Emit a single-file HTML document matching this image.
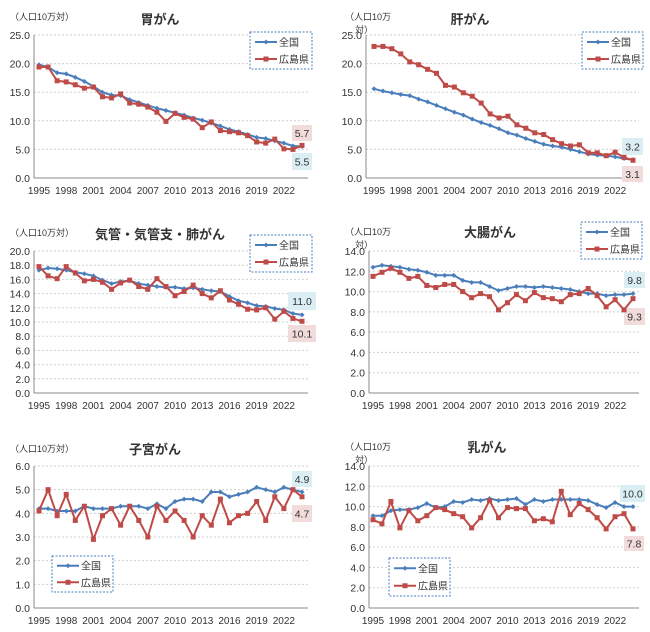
<!DOCTYPE html>
<html><head><meta charset="utf-8"><style>
body{margin:0;background:#fff}
svg{display:block}
text{font-family:"Liberation Sans","Noto Sans CJK JP",sans-serif;fill:#333}
</style></head><body>
<svg id="s" width="650" height="632" xmlns="http://www.w3.org/2000/svg"></svg>
<script>
const P=[
{t:"胃がん",tx:160,ty:24,ax:34,x0:39,x1:302,yt:35,yb:178,max:25,step:5,fix:1,ylab:1,lx:10,ly:20,
 leg:[250,32,62,37],
 n:[19.8,19.4,18.4,18.2,17.6,16.9,16.0,15.0,14.5,14.4,13.7,13.2,12.7,12.2,11.8,11.4,11.0,10.5,10.1,9.6,9.1,8.5,8.1,7.6,7.1,6.9,6.5,6.1,5.6,5.5],
 h:[19.4,19.4,17.0,16.8,16.3,15.7,15.9,14.2,14.0,14.7,13.1,12.9,12.4,11.5,9.9,11.3,10.6,10.3,8.8,9.8,8.3,8.1,7.9,7.4,6.3,6.1,6.8,5.1,5.0,5.7],
 bl:[292,153,20,17,"5.5"],pk:[292,125,20,16,"5.7"]},
{t:"肝がん",tx:470,ty:24,ax:366,x0:374,x1:633,yt:35,yb:178,max:25,step:5,fix:1,ylab:2,lx:345,ly:20,
 leg:[582,32,61,37],
 n:[15.6,15.2,14.9,14.6,14.4,13.8,13.3,12.7,12.1,11.5,11.0,10.3,9.7,9.2,8.6,7.9,7.5,6.9,6.4,5.9,5.6,5.4,5.0,4.6,4.2,4.0,3.9,3.7,3.4,3.2],
 h:[23.0,23.0,22.6,21.7,20.3,19.8,19.0,18.3,16.2,15.9,14.9,14.3,13.1,11.2,10.5,10.8,9.3,8.7,7.9,7.6,6.7,6.0,5.6,5.8,4.4,4.4,3.9,4.5,3.6,3.1],
 bl:[622,138,21,17,"3.2"],pk:[622,166,21,16,"3.1"]},
{t:"気管・気管支・肺がん",tx:160,ty:239,ax:34,x0:39,x1:302,yt:251,yb:393,max:20,step:2,fix:1,ylab:1,lx:10,ly:236,
 leg:[250,235,62,37],
 n:[17.3,17.6,17.5,17.3,17.0,16.8,16.5,15.9,15.4,15.7,15.8,15.4,15.2,15.0,14.9,14.9,14.7,14.8,14.6,14.4,14.3,13.6,13.0,12.7,12.3,12.2,11.9,11.7,11.2,11.0],
 h:[17.8,16.5,16.1,17.8,16.9,15.8,16.0,15.6,14.6,15.5,15.9,15.0,14.6,16.1,15.0,13.7,14.3,15.2,14.0,13.4,14.4,13.1,12.5,11.8,11.7,12.0,10.4,11.5,10.5,10.1],
 bl:[288,292,28,18,"11.0"],pk:[288,325,28,17,"10.1"]},
{t:"大腸がん",tx:490,ty:237,ax:369,x0:373,x1:633,yt:251,yb:393,max:14,step:2,fix:1,ylab:2,lx:345,ly:235,
 leg:[581,222,61,37],
 n:[12.4,12.6,12.5,12.4,12.2,12.1,11.9,11.6,11.6,11.6,11.1,10.9,10.9,10.5,10.1,10.3,10.5,10.5,10.4,10.5,10.4,10.3,10.2,10.0,9.8,9.8,9.6,9.7,9.7,9.8],
 h:[11.5,11.9,12.3,11.9,11.3,11.5,10.6,10.4,10.7,10.7,10.0,9.4,9.8,9.5,8.2,8.9,9.7,9.1,9.9,9.4,9.3,9.0,9.7,9.8,10.3,9.6,8.5,9.2,8.2,9.3],
 bl:[624,272,21,16,"9.8"],pk:[624,308,21,17,"9.3"]},
{t:"子宮がん",tx:155,ty:454,ax:34,x0:39,x1:302,yt:466,yb:608,max:6,step:1,fix:1,ylab:1,lx:10,ly:452,
 leg:[52,556,61,36],
 n:[4.2,4.2,4.1,4.1,4.1,4.3,4.2,4.2,4.2,4.3,4.3,4.3,4.2,4.4,4.2,4.5,4.6,4.6,4.5,4.9,4.9,4.7,4.8,4.9,5.1,5.0,4.9,5.1,5.0,4.9],
 h:[4.1,5.0,3.9,4.8,3.7,4.3,2.9,3.9,4.2,3.5,4.3,3.7,3.0,4.3,3.7,4.1,3.7,3.0,3.9,3.5,4.6,3.6,3.9,4.0,4.5,3.7,4.7,4.2,5.0,4.7],
 bl:[292,471,20,16,"4.9"],pk:[292,505,20,17,"4.7"]},
{t:"乳がん",tx:487,ty:452,ax:369,x0:373,x1:633,yt:466,yb:608,max:14,step:2,fix:1,ylab:2,lx:345,ly:450,
 leg:[389,558,61,38],
 n:[9.1,9.1,9.6,9.7,9.7,9.9,10.3,9.9,10.0,10.5,10.4,10.7,10.6,10.8,10.6,10.7,10.8,10.2,10.7,10.5,10.7,10.7,10.7,10.7,10.6,10.2,9.9,10.4,10.0,10.0],
 h:[8.7,8.3,10.5,7.9,9.6,8.6,9.1,9.9,9.7,9.3,9.0,7.9,8.9,10.6,8.9,9.9,9.8,9.8,8.6,8.8,8.5,11.5,9.2,10.3,9.7,8.9,7.8,9.0,9.3,7.8],
 bl:[620,485,25,17,"10.0"],pk:[624,536,20,15,"7.8"]}
];
const B="#4a7ebb",R="#be4b48";
let o="";
function T(x,y,s,a,sz,w){o+=`<text x="${x}" y="${y}" font-size="${sz||10}" text-anchor="${a||'start'}"${w?' font-weight="bold"':''}>${s}</text>`;}
for(const p of P){
 const dx=(p.x1-p.x0)/29,Y=v=>p.yb-(v/p.max)*(p.yb-p.yt),X=i=>p.x0+i*dx;
 const right=p.x1+6;
 for(let v=0;v<=p.max+1e-9;v+=p.step){const y=Y(v);
  if(v>0)o+=`<line x1="${p.ax}" y1="${y}" x2="${right}" y2="${y}" stroke="#d0d0d0" stroke-dasharray="2,2"/>`;
  T(p.ax-4,y+4,v.toFixed(1),"end",10.5);}
 o+=`<line x1="${p.ax}" y1="${p.yt}" x2="${p.ax}" y2="${p.yb}" stroke="#888"/><line x1="${p.ax}" y1="${p.yb}" x2="${right}" y2="${p.yb}" stroke="#888"/>`;
 for(let i=0;i<30;i+=3)T(X(i),p.yb+16,1995+i,"middle",10);
 T(p.tx,p.ty,p.t,"middle",13,1);
 if(p.ylab==1)T(p.lx,p.ly,"（人口10万対）","start",9);
 else{T(p.lx,p.ly,"（人口10万","start",9);T(p.lx+10,p.ly+13,"対）","start",9);}
 for(const [b,c] of [[p.bl,"#daeef3"],[p.pk,"#f2dcdb"]]){o+=`<rect x="${b[0]}" y="${b[1]}" width="${b[2]}" height="${b[3]}" fill="${c}"/>`;T(b[0]+b[2]/2,b[1]+b[3]/2+4,b[4],"middle",10.5);}
 const line=(d,c,sq)=>{o+=`<polyline fill="none" stroke="${c}" stroke-width="2" points="${d.map((v,i)=>X(i).toFixed(1)+","+Y(v).toFixed(1)).join(" ")}"/>`;
  d.forEach((v,i)=>{const x=X(i),y=Y(v);o+=sq?`<rect x="${x-2.5}" y="${y-2.5}" width="5" height="5" fill="${c}"/>`:`<path d="M${x} ${y-2.5}L${x+2.5} ${y}L${x} ${y+2.5}L${x-2.5} ${y}Z" fill="${c}"/>`;});};
 line(p.n,B,0);line(p.h,R,1);
 const [lx,ly,lw,lh]=p.leg;
 o+=`<rect x="${lx}" y="${ly}" width="${lw}" height="${lh}" fill="#fff" stroke="${B}" stroke-dasharray="2,1.5"/>`;
 const y1=ly+lh*0.27,y2=ly+lh*0.73;
 o+=`<line x1="${lx+5}" y1="${y1}" x2="${lx+27}" y2="${y1}" stroke="${B}" stroke-width="2"/><path d="M${lx+16} ${y1-2.5}L${lx+18.5} ${y1}L${lx+16} ${y1+2.5}L${lx+13.5} ${y1}Z" fill="${B}"/>`;
 o+=`<line x1="${lx+5}" y1="${y2}" x2="${lx+27}" y2="${y2}" stroke="${R}" stroke-width="2"/><rect x="${lx+13.5}" y="${y2-2.5}" width="5" height="5" fill="${R}"/>`;
 T(lx+29,y1+4,"全国","start",10);T(lx+29,y2+4,"広島県","start",10);
}
document.getElementById("s").innerHTML=o;
</script>
</body></html>
